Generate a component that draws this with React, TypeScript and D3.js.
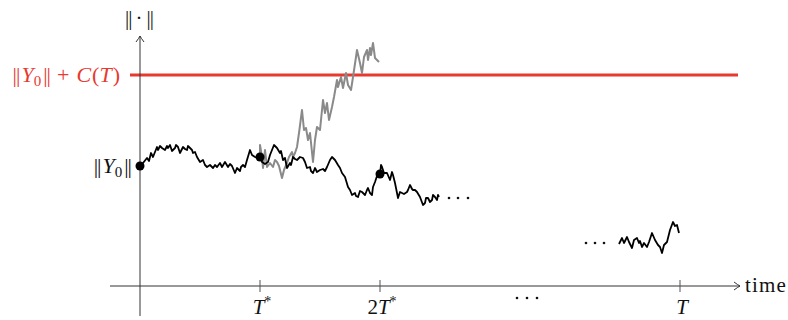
import React from "react";
import * as d3 from "d3";

// time in steps (T* = 120 steps, T = 540 steps), norm in arbitrary units
const tickTimes = [120, 240, 540];
const tickLabels = ["T*", "2T*", "T"];
const y0Norm = 120;
const boundNorm = 211; // ||Y0|| + C(T)

const blackPathA: [number, number][] = [
  [0, 120], [3, 123], [7, 128], [9, 125], [11, 133], [13, 129], [17, 139], [18, 136], [20, 140], [22, 138],
  [25, 136], [27, 140], [28, 138], [30, 141], [32, 135], [35, 138], [36, 141], [38, 139], [40, 133], [43, 139],
  [45, 137], [47, 136], [48, 140], [50, 138], [52, 136], [53, 133], [55, 134], [57, 129], [60, 124], [63, 126],
  [65, 121], [67, 119], [70, 121], [73, 118], [75, 121], [77, 119], [80, 123], [82, 119], [85, 124], [88, 119],
  [90, 122], [92, 120], [95, 113], [97, 118], [100, 115], [101, 119], [103, 121], [105, 119], [107, 126], [110, 136],
  [112, 131], [115, 129], [118, 128], [120, 129], [122, 124], [125, 122], [128, 124], [130, 131], [132, 136], [134, 141],
  [137, 138], [140, 133], [141, 135], [143, 126], [145, 128], [147, 118], [150, 123], [151, 121], [153, 129], [155, 127],
  [157, 126], [160, 129], [163, 128], [165, 124], [167, 118], [170, 119], [171, 115], [173, 113], [175, 118], [177, 114],
  [180, 116], [183, 117], [185, 115], [187, 119], [190, 126], [192, 129], [195, 126], [198, 121], [200, 118], [202, 113],
  [205, 109], [208, 99], [210, 96], [212, 91], [215, 93], [216, 90], [218, 89], [220, 95], [222, 94], [225, 91],
  [227, 96], [228, 98], [230, 93], [232, 91], [233, 99], [235, 104], [238, 113], [240, 112], [241, 121], [242, 119],
  [244, 113], [247, 113], [250, 106], [252, 114], [253, 111], [255, 103], [258, 88], [260, 94], [262, 93], [264, 92],
  [267, 94], [268, 96], [270, 101], [272, 97], [273, 96], [275, 96], [277, 94], [280, 89], [283, 81], [285, 83],
  [286, 88], [288, 88], [290, 84], [292, 86], [293, 91], [295, 89], [297, 86], [298, 91], [299, 89],
];

const blackPathB: [number, number][] = [
  [479, 42], [482, 48], [484, 43], [487, 49], [489, 44], [492, 38], [494, 46], [497, 48], [499, 43], [500, 45],
  [502, 39], [504, 43], [507, 39], [509, 44], [512, 53], [515, 46], [518, 41], [520, 39], [522, 33], [524, 41],
  [527, 44], [530, 56], [533, 64], [535, 60], [537, 61], [539, 53],
];

const grayPath: [number, number][] = [
  [120, 129], [120, 141], [122, 129], [123, 118], [125, 136], [127, 119], [130, 123], [133, 119], [135, 126], [137, 124],
  [139, 120], [142, 108], [144, 116], [147, 123], [149, 129], [152, 134], [153, 129], [155, 133], [157, 139], [159, 153],
  [162, 176], [164, 156], [166, 158], [168, 146], [170, 153], [173, 124], [175, 146], [177, 159], [180, 156], [183, 186],
  [185, 173], [187, 183], [189, 166], [192, 179], [194, 189], [197, 206], [198, 199], [201, 209], [203, 198], [206, 213],
  [208, 201], [211, 196], [213, 209], [216, 229], [217, 236], [220, 223], [222, 213], [224, 229], [227, 236], [228, 226],
  [230, 238], [231, 231], [233, 243], [235, 228], [237, 226], [239, 224],
];

const markedPoints: [number, number][] = [[0, 120], [120, 129], [240, 112]];

const W = 788;
const H = 320;

const MATH = "'Liberation Serif', serif";
const FS = 21;
const NORM = "||";

export default function App() {
  const x = d3.scaleLinear().domain([0, 540]).range([140, 680]);
  const y = d3.scaleLinear().domain([0, 250]).range([286, 36]);
  const line = d3
    .line<[number, number]>()
    .x((d) => x(d[0]))
    .y((d) => y(d[1]));

  const x0 = x(0);
  const yAxis = y(0);
  const xEnd = x(600);
  const yTop = y(250);

  const bars = (key: string, extra?: object) => (
    <tspan key={key} letterSpacing={-1} {...extra}>{NORM}</tspan>
  );

  const tickLabel = (lbl: string) => {
    if (lbl === "T*")
      return (
        <>
          <tspan fontStyle="italic">T</tspan>
          <tspan fontSize={14} dy={-8}>*</tspan>
        </>
      );
    if (lbl === "2T*")
      return (
        <>
          <tspan>2</tspan>
          <tspan fontStyle="italic">T</tspan>
          <tspan fontSize={14} dy={-8}>*</tspan>
        </>
      );
    return <tspan fontStyle="italic">{lbl}</tspan>;
  };

  return (
    <svg
      width={W}
      height={H}
      style={{ position: "absolute", left: 0, top: 0, background: "#fff" }}
      fontFamily={MATH}
    >
      {/* red bound */}
      <line x1={x(-10)} x2={x(598)} y1={y(boundNorm)} y2={y(boundNorm)} stroke="#e8392f" strokeWidth={3} />

      {/* axes */}
      <line x1={x(-30)} x2={xEnd} y1={yAxis} y2={yAxis} stroke="#333" strokeWidth={1} />
      <path
        d={`M${xEnd - 6},${yAxis - 4} Q${xEnd - 2},${yAxis - 1} ${xEnd},${yAxis} Q${xEnd - 2},${yAxis + 1} ${xEnd - 6},${yAxis + 4}`}
        fill="none"
        stroke="#333"
        strokeWidth={1}
      />
      <line x1={x0} x2={x0} y1={yAxis + 30} y2={yTop} stroke="#333" strokeWidth={1} />
      <path
        d={`M${x0 - 4},${yTop + 6} Q${x0 - 1},${yTop + 2} ${x0},${yTop} Q${x0 + 1},${yTop + 2} ${x0 + 4},${yTop + 6}`}
        fill="none"
        stroke="#333"
        strokeWidth={1}
      />

      {tickTimes.map((t, i) => (
        <g key={t}>
          <line x1={x(t)} x2={x(t)} y1={yAxis - 6} y2={yAxis + 6} stroke="#555" strokeWidth={1} />
          <text x={x(t) + 2} y={yAxis + 28} textAnchor="middle" fontSize={FS} fill="#111">
            {tickLabel(tickLabels[i])}
          </text>
        </g>
      ))}

      {/* x-axis dots */}
      {[377, 387, 397].map((t) => (
        <circle key={t} cx={x(t)} cy={yAxis + 12} r={1.3} fill="#111" />
      ))}

      <text x={x(605)} y={yAxis + 6} fontSize={FS} fill="#111" letterSpacing={1.2}>time</text>
      <text x={x0 - 1} y={25} textAnchor="middle" fontSize={FS} fill="#111">
        {bars("a")}
        <tspan dx={4}>·</tspan>
        {bars("b", { dx: 4 })}
      </text>

      {/* labels */}
      <text x={x(-20)} y={y(boundNorm) + 7} textAnchor="end" fontSize={22} fill="#e8392f">
        {bars("a")}
        <tspan fontStyle="italic" dx={2}>Y</tspan>
        <tspan fontSize={15} dy={4}>0</tspan>
        {bars("b", { dy: -4, dx: 2 })}
        <tspan dx={7}>+</tspan>
        <tspan fontStyle="italic" dx={7}>C</tspan>
        <tspan dx={1}>(</tspan>
        <tspan fontStyle="italic">T</tspan>
        <tspan dx={1}>)</tspan>
      </text>
      <text x={x(-9)} y={y(y0Norm) + 7} textAnchor="end" fontSize={22} fill="#111">
        {bars("a")}
        <tspan fontStyle="italic" dx={2}>Y</tspan>
        <tspan fontSize={15} dy={4}>0</tspan>
        {bars("b", { dy: -4, dx: 2 })}
      </text>

      {/* paths */}
      <path d={line(grayPath) || ""} fill="none" stroke="#8a8a8a" strokeWidth={2} strokeLinejoin="round" />
      <path d={line(blackPathA) || ""} fill="none" stroke="#000" strokeWidth={1.8} strokeLinejoin="round" />
      <path d={line(blackPathB) || ""} fill="none" stroke="#000" strokeWidth={1.8} strokeLinejoin="round" />

      {markedPoints.map((p, i) => (
        <circle key={i} cx={x(p[0])} cy={y(p[1])} r={4.5} fill="#000" />
      ))}

      {/* continuation dots */}
      {[309, 318, 328].map((t) => (
        <circle key={"a" + t} cx={x(t)} cy={y(88)} r={1.3} fill="#111" />
      ))}
      {[446, 455, 464].map((t) => (
        <circle key={"b" + t} cx={x(t)} cy={y(43)} r={1.3} fill="#111" />
      ))}
    </svg>
  );
}
